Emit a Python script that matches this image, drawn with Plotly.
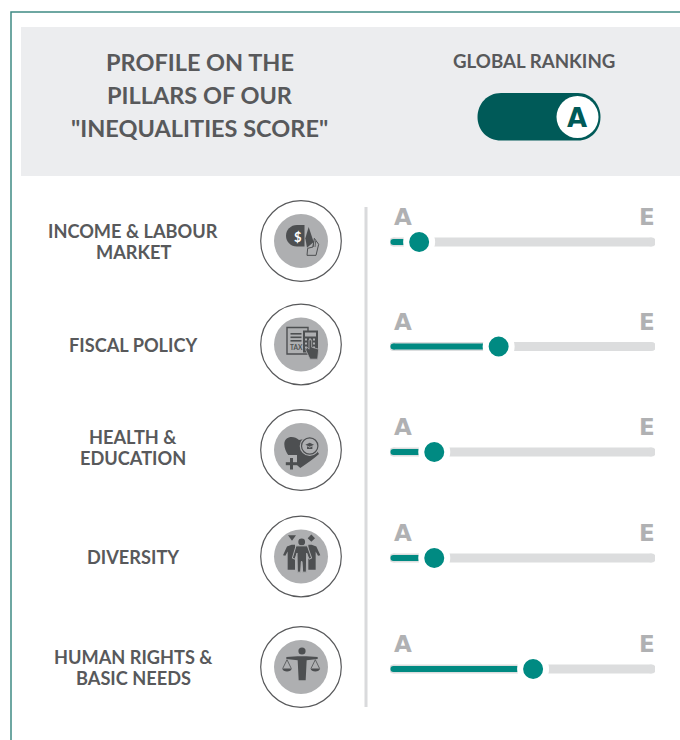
import plotly.graph_objects as go

pillars = ["INCOME & LABOUR<br>MARKET", "FISCAL POLICY", "HEALTH &<br>EDUCATION", "DIVERSITY", "HUMAN RIGHTS &<br>BASIC NEEDS"]
scores = [0.11, 0.41, 0.167, 0.167, 0.54]
scale_labels = ["A", "E"]
title_lines = ["PROFILE ON THE", "PILLARS OF OUR", '"INEQUALITIES SCORE"']
global_title = "GLOBAL RANKING"
global_grade = "A"

W, H = 680, 740
ROW_TRACK = [242, 346.5, 452, 558, 669]
ROW_ICON = [241, 344.5, 450, 556.5, 667]
ICON_X = 301
TEAL, DARK, TRACK, TEXT, GREY, ICON, DISC = "#008a82", "#005a58", "#dcddde", "#58595b", "#b0b1b3", "#4d4f51", "#aeafb1"
FONT = "Lato"

fig = go.Figure()
shapes, ann = [], []

def rect(x0, y0, x1, y1, fill, line=None, lw=0, layer="below"):
    shapes.append(dict(type="rect", xref="x", yref="y", x0=x0, y0=y0, x1=x1, y1=y1, fillcolor=fill,
                       line=dict(color=line or fill, width=lw), layer=layer))

def circle(cx, cy, r, fill, line=None, lw=0, layer="below"):
    shapes.append(dict(type="circle", xref="x", yref="y", x0=cx-r, y0=cy-r, x1=cx+r, y1=cy+r, fillcolor=fill,
                       line=dict(color=line or "rgba(0,0,0,0)", width=lw), layer=layer))

def path(d, fill=ICON, line=None, lw=0):
    shapes.append(dict(type="path", xref="x", yref="y", path=d, fillcolor=fill,
                       line=dict(color=line or "rgba(0,0,0,0)", width=lw), layer="below"))

def poly(cx, cy, pts, fill=ICON, line=None, lw=0, close=True):
    d = "M" + " L".join(f"{cx+a/3:.2f},{cy+b/3:.2f}" for a, b in pts) + (" Z" if close else "")
    path(d, fill if close else "rgba(0,0,0,0)", line, lw)

def text(x, y, s, size, color=TEXT, anchor="center", font=FONT):
    ann.append(dict(xref="x", yref="y", x=x, y=y, text=s, showarrow=False, xanchor=anchor, yanchor="middle",
                    font=dict(family=font, size=size, color=color), align="center"))

# frame and header
shapes.append(dict(type="path", xref="x", yref="y", path=f"M11,{H+5} L11,12 L{W+5},12",
                   line=dict(color="#3f8a84", width=1.5), layer="below"))
rect(21, 27, W+2, 176, "#ecedef")
for y, s in zip([62, 95, 128], title_lines):
    text(199.5, y, f"<b>{s}</b>", 23.5)
text(534, 61, f"<b>{global_title}</b>", 18.7)
path("M501,93 L578,93 C591,93 600.5,104 600.5,117 C600.5,130 591,140.5 578,140.5 L501,140.5 "
     "C487,140.5 477.5,130 477.5,117 C477.5,104 487,93 501,93 Z", DARK)
circle(577.5, 117, 21, "#ffffff")
text(577, 118, f"<b>{global_grade}</b>", 26, DARK, font="DejaVu Sans")

# divider
rect(364.5, 207, 367.5, 707, "#d9dadc")

# icon rings
for cy in ROW_ICON:
    circle(ICON_X, cy, 40.3, "#ffffff", "#58595b", 1.2)
    circle(ICON_X, cy, 27, DISC)

def icon_income(cx, cy):
    path(f"M{cx+3.5},{cy-16} L{cx-4},{cy-16} C{cx-10.5},{cy-16} {cx-15},{cy-11} {cx-15},{cy-5.3} "
         f"C{cx-15},{cy+0.5} {cx-10.5},{cy+5.5} {cx-4},{cy+5.5} L{cx+3.5},{cy+5.5} Z")
    text(cx-3, cy-4.5, "<b>$</b>", 13, "#ffffff")
    poly(cx, cy, [(23, -42), (13, -8), (18, 20), (38, 3)])
    poly(cx, cy, [(20, 22), (18, 43), (45, 43), (53, 10), (40, -8), (36, 18)], fill=DISC, line=ICON, lw=1)
    for x0 in [38, 44]:
        poly(cx, cy, [(x0, 0), (x0 - 2, 18)], line=ICON, lw=0.8, close=False)

def icon_tax(cx, cy):
    rect(cx-14, cy-17, cx+7, cy+9.5, "rgba(0,0,0,0)", ICON, 1.4)
    for dy in [-11.5, -8, -4.5]:
        rect(cx-10.5, cy+dy, cx+0.5, cy+dy+1.6, ICON)
    text(cx-5, cy+3, "<b>TAX</b>", 6.5, ICON)
    rect(cx+2, cy-14, cx+17, cy+8, ICON)
    rect(cx+4, cy-12, cx+15, cy-8, DISC)
    for i in range(3):
        for j in range(3):
            rect(cx+4+i*4, cy-6+j*4, cx+6+i*4, cy-4+j*4, DISC)
    poly(cx, cy, [(24, -14), (24, 14), (18, 8), (14, 16), (27, 44), (50, 44), (53, 14), (32, 8), (32, -14)],
         line=DISC, lw=0.8)

def icon_health(cx, cy):
    path(f"M{cx-0.7},{cy+18} C{cx-10},{cy+10} {cx-16.7},{cy+2} {cx-16.7},{cy-6} C{cx-16.7},{cy-14} {cx-7},{cy-15} {cx-2},{cy-10} "
         f"L{cx+8},{cy-12} L{cx+18},{cy+4} C{cx+13},{cy+9} {cx+6},{cy+13} {cx-0.7},{cy+18} Z")
    circle(cx+8.7, cy-4, 10, DISC)
    circle(cx+8.7, cy-4, 8.2, DISC, ICON, 1.2)
    poly(cx+8.7, cy-4, [(-13, -4), (0, -10), (13, -4), (0, 2)])
    poly(cx+8.7, cy-4, [(-8, 1), (0, 5), (8, 1), (8, 9), (-8, 9)])
    rect(cx-15, cy+5, cx-4, cy+17, DISC)
    rect(cx-11, cy+8, cx-8, cy+19.5, ICON)
    rect(cx-15.2, cy+12.2, cx-3.8, cy+15.2, ICON)

def icon_diversity(cx, cy):
    poly(cx, cy, [(-39, -64), (-15, -64), (-27, -47)])
    poly(cx, cy, [(31, -66), (42, -55), (31, -44), (20, -55)])
    poly(cx, cy, [(-28, -35), (-42, -30), (-54, -4), (-47, -2), (-40, -15), (-40, 40), (-18, 40), (-18, -35)])
    poly(cx, cy, [(32, -35), (46, -30), (58, -4), (51, -2), (44, -15), (44, 40), (22, 40), (22, -35)])
    circle(cx+0.7, cy-14.5, 3.4, ICON)
    poly(cx, cy, [(-15, -32), (19, -32), (32, 5), (24, 8), (17, -10), (16, 47), (5, 47), (3, 15), (1, 15), (-1, 47),
                  (-11, 47), (-12, -10), (-18, 8), (-26, 5)], line=DISC, lw=1)

def icon_rights(cx, cy):
    circle(cx+1, cy-16, 3.6, ICON)
    poly(cx, cy, [(-44, -30), (-10, -32), (16, -32), (50, -30), (50, -24), (17, -20), (14, 40), (-7, 40), (-10, -20), (-44, -24)])
    for base in [-14, 14.3]:
        x = cx + base
        path(f"M{x-4.3},{cy+1.5} L{x},{cy-7.3} L{x+4.3},{cy+1.5}", "rgba(0,0,0,0)", ICON, 0.8)
        path(f"M{x-4.7},{cy+1.5} L{x+4.7},{cy+1.5} C{x+4.5},{cy+5.5} {x-4.5},{cy+5.5} {x-4.7},{cy+1.5} Z")

for fn, cy in zip([icon_income, icon_tax, icon_health, icon_diversity, icon_rights], ROW_ICON):
    fn(ICON_X, cy)

# row labels
ROW_LABEL = [241.5, 345, 447.5, 557, 667.5]
for lab, y in zip(pillars, ROW_LABEL):
    lines = lab.split("<br>")
    for i, ln in enumerate(lines):
        text(133, y + (i - (len(lines)-1)/2) * 21, f"<b>{ln}</b>", 18.2)

# A / E scale labels
for y in ROW_TRACK:
    text(403, y-25, f"<b>{scale_labels[0]}</b>", 23, GREY, font="DejaVu Sans")
    text(647, y-25, f"<b>{scale_labels[1]}</b>", 23, GREY, font="DejaVu Sans")

# sliders, drawn through the slider axis
for name, s, y in zip(pillars, scores, ROW_TRACK):
    nm = name.replace("<br>", " ")
    fig.add_trace(go.Scatter(x=[0.013, 0.987], y=[y, y], mode="lines+markers", xaxis="x2", yaxis="y", name=nm,
                             line=dict(color=TRACK, width=9), marker=dict(color=TRACK, size=9), showlegend=False, hoverinfo="skip"))
    fig.add_trace(go.Scatter(x=[0.013, s], y=[y, y], mode="lines", xaxis="x2", yaxis="y", name=nm,
                             line=dict(color=TEAL, width=6), showlegend=False, hoverinfo="skip"))
    fig.add_trace(go.Scatter(x=[0.013], y=[y], mode="markers", xaxis="x2", yaxis="y", name=nm,
                             marker=dict(color=TEAL, size=6), showlegend=False, hoverinfo="skip"))
    fig.add_trace(go.Scatter(x=[s], y=[y], mode="markers", xaxis="x2", yaxis="y", name=nm,
                             marker=dict(color=TEAL, size=26, line=dict(color="#ffffff", width=6)),
                             showlegend=False, hoverinfo="skip"))

hidden = dict(showgrid=False, zeroline=False, showticklabels=False, ticks="", showline=False, fixedrange=True)
fig.update_layout(
    width=W, height=H, autosize=False, margin=dict(l=0, r=0, t=0, b=0), showlegend=False,
    paper_bgcolor="#ffffff", plot_bgcolor="rgba(0,0,0,0)", shapes=shapes, annotations=ann,
    xaxis=dict(range=[0, W], domain=[0, 1], **hidden),
    yaxis=dict(range=[H, 0], domain=[0, 1], **hidden),
    xaxis2=dict(range=[0, 1], domain=[390/W, 655/W], anchor="y", **hidden),
)
fig.write_html("out.html", config=dict(displayModeBar=False), default_width="680px", default_height="740px",
               post_script="document.body.style.margin='0';document.body.style.overflow='hidden';")
